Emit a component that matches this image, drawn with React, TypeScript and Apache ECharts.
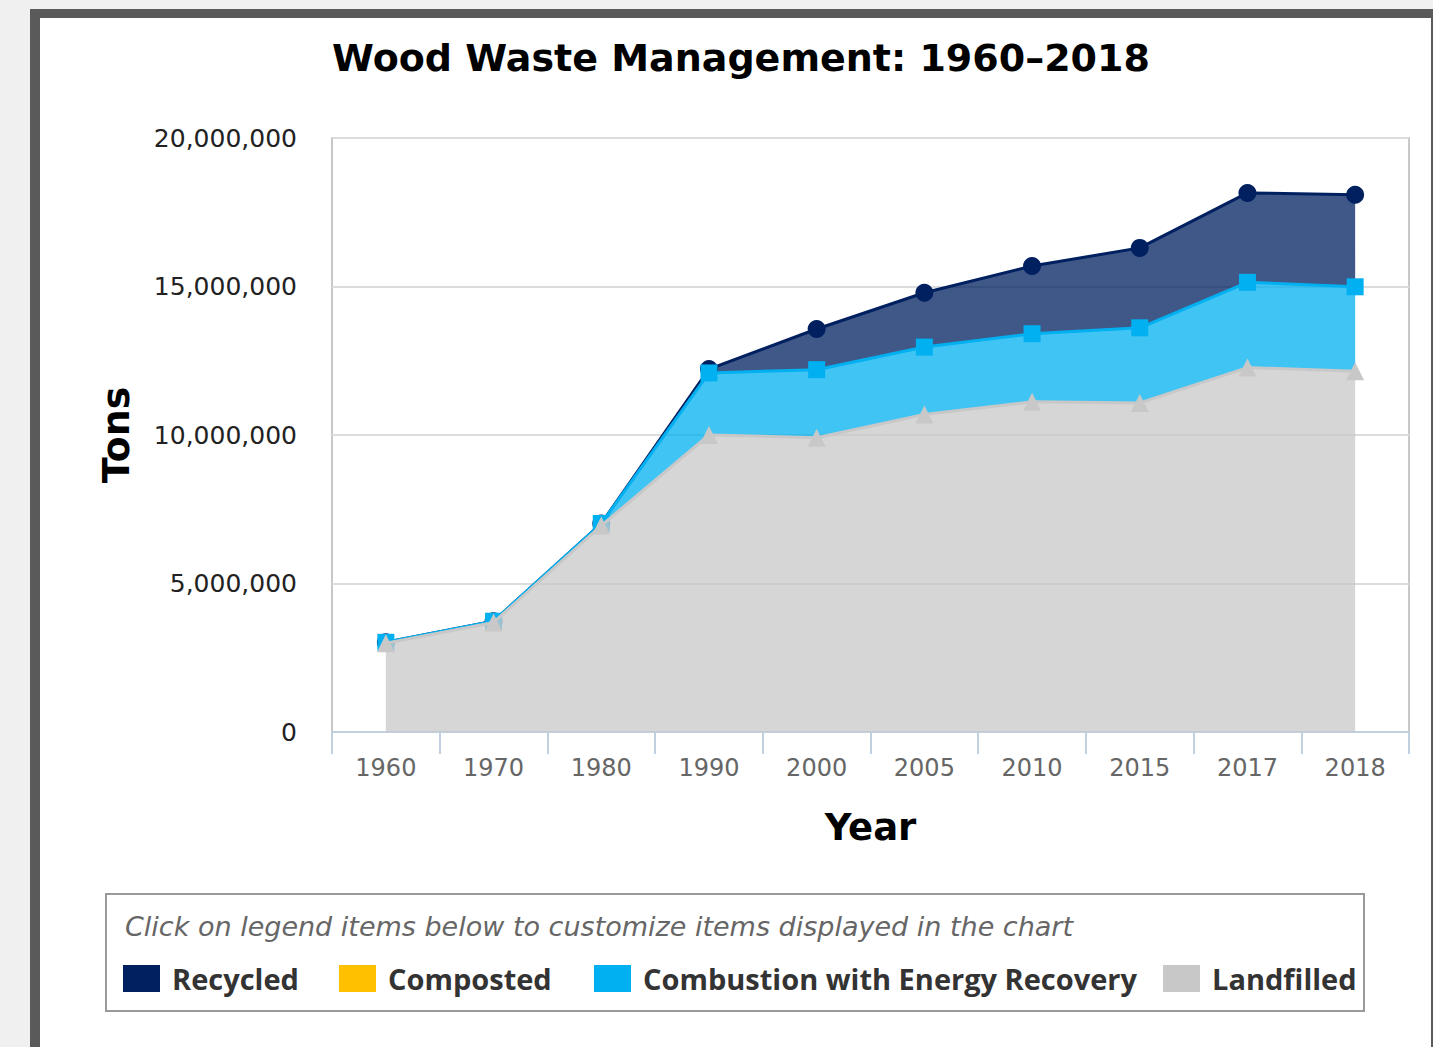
import React, { useEffect, useRef } from 'react';
import * as echarts from 'echarts';

const years = ['1960', '1970', '1980', '1990', '2000', '2005', '2010', '2015', '2017', '2018'];
const recycled = [0, 0, 0, 130000, 1370000, 1830000, 2280000, 2690000, 3010000, 3100000];
const composted: (number | null)[] = [null, null, null, null, null, null, null, null, null, null];
const combustion = [30000, 40000, 70000, 2090000, 2290000, 2270000, 2290000, 2530000, 2870000, 2840000];
const landfilled = [2990000, 3690000, 6950000, 10000000, 9910000, 10690000, 11120000, 11080000, 12270000, 12150000];

const titleText = 'Wood Waste Management: 1960\u20132018';
const legendHint = 'Click on legend items below to customize items displayed in the chart';

const C_REC = '#002060';
const C_COMP = '#ffc000';
const C_COMB = '#00b0f0';
const C_LAND = '#c8c8c8';

const fmt = (v: number) => String(v).replace(/\B(?=(\d{3})+(?!\d))/g, ',');

export default function App() {
  const ref = useRef<HTMLDivElement>(null);
  useEffect(() => {
    if (!ref.current) return;
    const chart = echarts.init(ref.current, undefined, { renderer: 'svg' });
    const legendBase = {
      orient: 'horizontal',
      top: 964,
      padding: 0,
      icon: 'rect',
      itemWidth: 37,
      itemHeight: 27,
      selectedMode: true,
      textStyle: {
        fontFamily: '"Open Sans", sans-serif',
        fontSize: 29,
        fontWeight: 'bold',
        color: '#333',
        padding: [0, 0, 0, 7],
      },
    };
    const lineSeries = (name: string, data: (number | null)[], color: string, symbol: string, size: number, z: number) => ({
      name,
      type: 'line',
      stack: 'total',
      data,
      z,
      symbol,
      symbolSize: size,
      showAllSymbol: true,
      color,
      lineStyle: { color, width: 3 },
      itemStyle: { color, borderWidth: 0 },
      areaStyle: { color, opacity: 0.75 },
      emphasis: { disabled: true },
    });
    chart.setOption({
      animation: false,
      backgroundColor: 'transparent',
      title: {
        text: titleText,
        left: 736,
        top: 34,
        textAlign: 'center',
        textStyle: { fontFamily: '"DejaVu Sans", sans-serif', fontSize: 38, fontWeight: 'bold', color: '#000' },
      },
      grid: {
        left: 332,
        right: 24,
        top: 138,
        bottom: 315,
        show: true,
        borderColor: '#c8c8c8',
        borderWidth: 2,
        backgroundColor: 'transparent',
      },
      xAxis: {
        type: 'category',
        data: years,
        boundaryGap: true,
        name: 'Year',
        nameLocation: 'middle',
        nameGap: 77,
        nameTextStyle: { fontFamily: '"DejaVu Sans", sans-serif', fontSize: 37, fontWeight: 'bold', color: '#000' },
        axisLine: { show: true, lineStyle: { color: '#c0d0e0', width: 2 } },
        axisTick: { show: true, length: 22, lineStyle: { color: '#c0d0e0', width: 2 } },
        axisLabel: { fontFamily: '"DejaVu Sans", sans-serif', fontSize: 24, color: '#666', margin: 24 },
        splitLine: { show: false },
      },
      yAxis: {
        type: 'value',
        min: 0,
        max: 20000000,
        interval: 5000000,
        name: 'Tons',
        nameLocation: 'middle',
        nameGap: 197,
        nameRotate: 90,
        nameTextStyle: { fontFamily: '"DejaVu Sans", sans-serif', fontSize: 38, fontWeight: 'bold', color: '#000' },
        axisLine: { show: false },
        axisTick: { show: false },
        axisLabel: { fontFamily: '"DejaVu Sans", sans-serif', fontSize: 25, color: '#222', margin: 35, formatter: fmt },
        splitLine: { show: true, lineStyle: { color: '#dcdcdc', width: 2 } },
      },
      legend: [
        { ...legendBase, left: 123, data: ['Recycled'] },
        { ...legendBase, left: 339, data: ['Composted'] },
        { ...legendBase, left: 594, data: ['Combustion with Energy Recovery'] },
        { ...legendBase, left: 1163, data: ['Landfilled'] },
      ],
      graphic: [
        {
          type: 'rect',
          z: 0,
          shape: { x: 106, y: 894, width: 1258, height: 117 },
          style: { fill: '#fff', stroke: '#999', lineWidth: 2 },
        },
        {
          type: 'text',
          z: 1,
          x: 125,
          y: 926,
          style: {
            text: legendHint,
            font: 'italic 27px "DejaVu Sans", sans-serif',
            fill: '#666',
            textVerticalAlign: 'middle',
          },
        },
      ],
      series: [
        lineSeries('Landfilled', landfilled, C_LAND, 'triangle', 18, 5),
        lineSeries('Composted', composted, C_COMP, 'diamond', 16, 4),
        lineSeries('Combustion with Energy Recovery', combustion, C_COMB, 'rect', 17, 3),
        lineSeries('Recycled', recycled, C_REC, 'circle', 18, 2),
      ],
    });
    return () => chart.dispose();
  }, []);

  return (
    <div style={{ position: 'fixed', left: 0, top: 0, width: 1433, height: 1047, background: '#f0f0f0', overflow: 'hidden' }}>
      <div style={{ position: 'absolute', left: 30, top: 9, width: 1403, height: 1038, background: '#5a5a5a' }} />
      <div style={{ position: 'absolute', left: 40, top: 18, width: 1391, height: 1029, background: '#fff' }} />
      <div ref={ref} style={{ position: 'absolute', left: 0, top: 0, width: 1433, height: 1047 }} />
    </div>
  );
}
